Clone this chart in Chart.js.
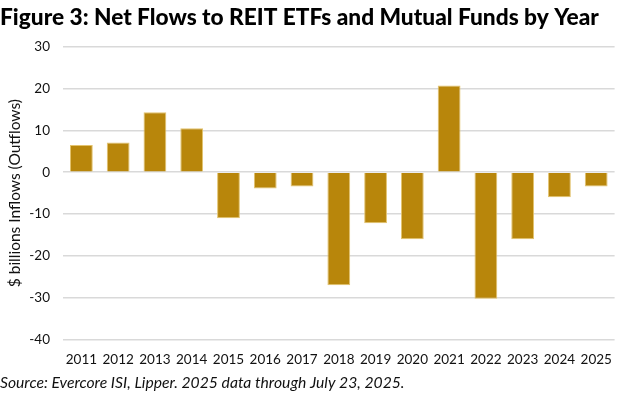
<!DOCTYPE html>
<html>
<head>
<meta charset="utf-8">
<script src="https://cdn.jsdelivr.net/npm/chart.js"></script>
<style>
  html, body { margin: 0; padding: 0; background: #fff; }
  #wrap { width: 624px; height: 396px; }
</style>
</head>
<body>
<div id="wrap"><canvas id="flowsChart" width="624" height="396"></canvas></div>
<script>
    // Net flows to REIT ETFs and mutual funds, $ billions
    const years = ['2011', '2012', '2013', '2014', '2015', '2016', '2017', '2018',
                   '2019', '2020', '2021', '2022', '2023', '2024', '2025'];
    const netFlows = [6.5, 7.1, 14.3, 10.5, -11.0, -3.9, -3.4, -27.0,
                      -12.2, -16.0, 20.7, -30.2, -16.0, -6.0, -3.4];
    const yTicks = [30, 20, 10, 0, -10, -20, -30, -40];

    const textColor = '#111';
    const fontFamily = 'Lato, "Open Sans", sans-serif';

    const flowData = {
        labels: years,
        datasets: [{
            label: 'Net Flows',
            data: netFlows,
            backgroundColor: '#B8860B',
            borderColor: '#E3C36E',
            borderWidth: 1,
            barPercentage: 0.62,
            categoryPercentage: 1.0
        }]
    };

    const flowConfig = {
        type: 'bar',
        data: flowData,
        options: {
            responsive: false,
            animation: false,
            layout: {
                padding: { left: 0, right: 4, top: 0, bottom: 0 }
            },
            scales: {
                x: {
                    grid: { display: false, drawTicks: false },
                    border: { display: false },
                    ticks: {
                        color: textColor,
                        font: { family: fontFamily, size: 13.5 },
                        padding: 12,
                        maxRotation: 0,
                        autoSkip: false
                    },
                    afterFit: function(scale) { scale.height = 31; }
                },
                y: {
                    min: Math.min(...yTicks),
                    max: Math.max(...yTicks),
                    afterBuildTicks: function(scale) {
                        scale.ticks = yTicks.map(v => ({ value: v }));
                    },
                    grid: {
                        color: '#D9D9D9',
                        lineWidth: 1.5,
                        drawTicks: false
                    },
                    border: { display: false },
                    ticks: {
                        color: textColor,
                        font: { family: fontFamily, size: 13.5 },
                        padding: 13
                    },
                    title: {
                        display: true,
                        text: '$ billions Inflows (Outflows)',
                        color: textColor,
                        font: { family: fontFamily, size: 15.5, lineHeight: 1.2 },
                        padding: { top: 5.5, bottom: 0 }
                    },
                    afterFit: function(scale) { scale.width = 63; }
                }
            },
            plugins: {
                legend: { display: false },
                tooltip: { enabled: false },
                title: {
                    display: true,
                    text: 'Figure 3: Net Flows to REIT ETFs and Mutual Funds by Year',
                    color: '#000',
                    align: 'start',
                    font: { family: fontFamily, size: 22.7, weight: '900', lineHeight: 1.2 },
                    padding: { top: 4, bottom: 15.4 }
                },
                subtitle: {
                    display: true,
                    position: 'bottom',
                    align: 'start',
                    text: 'Source: Evercore ISI, Lipper. 2025 data through July 23, 2025.',
                    color: textColor,
                    font: { family: fontFamily, size: 15.7, style: 'italic', lineHeight: 1.2 },
                    padding: { top: 3, bottom: 3.5 }
                }
            }
        }
    };

    const flowsChart = new Chart(
        document.getElementById('flowsChart'),
        flowConfig
    );
</script>
</body>
</html>
